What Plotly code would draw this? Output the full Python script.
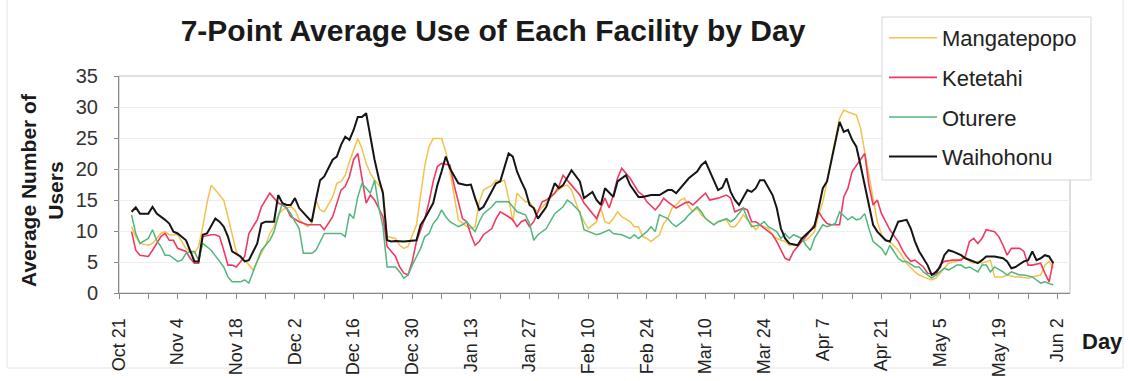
import pandas as pd
import plotly.graph_objects as go

# Series readings: day offsets counted from Oct 21, and the 7-point averaged user counts
START = "2001-10-21"

series_names = ["Mangatepopo", "Ketetahi", "Oturere", "Waihohonu"]
series_colors = ["#f3c24e", "#ef3a62", "#52b77c", "#151515"]

mangatepopo_day = [3, 4, 5, 7, 8, 9, 10, 11, 12, 14, 15, 16, 17, 18, 19, 20, 21, 22, 23, 24, 25, 26, 27, 28,
                   29, 30, 31, 32, 33, 35, 36, 37, 38, 39, 40, 41, 42, 43, 45, 46, 47, 48, 49, 51, 52, 53, 54,
                   55, 57, 58, 59, 60, 61, 63, 64, 66, 67, 68, 69, 71, 72, 73, 74, 75, 77, 78, 79, 80, 81, 83,
                   84, 85, 86, 87, 89, 90, 91, 92, 93, 94, 95, 97, 98, 99, 100, 102, 103, 104, 106, 107, 108,
                   109, 110, 111, 112, 114, 115, 116, 117, 118, 119, 120, 122, 123, 124, 125, 126, 127, 129,
                   130, 131, 132, 133, 134, 135, 136, 137, 138, 139, 141, 142, 143, 145, 146, 147, 148, 149,
                   151, 152, 153, 155, 156, 157, 158, 159, 160, 162, 163, 164, 165, 166, 167, 168, 169, 170,
                   171, 172, 173, 174, 175, 176, 177, 178, 179, 180, 181, 182, 183, 184, 186, 187, 188, 190,
                   191, 192, 193, 194, 195, 196, 197, 198, 200, 202, 203, 204, 205, 206, 208, 209, 211, 212,
                   214, 215, 217, 218, 220, 221, 222, 223]
mangatepopo_val = [10.7, 9.1, 8.0, 7.7, 8.0, 8.8, 9.6, 9.9, 9.4, 9.4, 8.3, 7.2, 6.7, 6.4, 7.5, 10.7, 14.5, 17.4,
                   16.6, 15.8, 15.0, 12.3, 9.6, 6.7, 5.6, 5.3, 4.5, 3.7, 5.1, 7.7, 9.6, 10.7, 12.6, 13.4, 13.7,
                   13.9, 13.4, 11.8, 10.7, 11.2, 15.0, 13.4, 13.1, 15.5, 17.7, 18.0, 19.0, 21.2, 24.9, 23.3,
                   20.9, 19.3, 18.2, 16.6, 9.1, 8.8, 7.7, 7.2, 7.5, 11.0, 15.8, 20.6, 23.6, 24.9, 24.9, 22.8,
                   19.6, 15.8, 11.8, 10.7, 10.4, 10.7, 14.7, 16.6, 17.4, 18.2, 18.0, 18.2, 15.3, 11.5, 16.1,
                   14.7, 14.7, 13.7, 13.1, 14.5, 15.3, 16.1, 17.2, 17.4, 16.6, 14.7, 12.8, 11.5, 10.4, 11.5,
                   13.7, 11.5, 11.2, 12.0, 13.1, 12.3, 11.5, 10.7, 10.7, 9.1, 8.8, 8.3, 9.4, 11.2, 12.0, 13.7,
                   14.2, 15.0, 15.3, 13.9, 13.1, 13.7, 12.6, 11.5, 11.0, 11.5, 11.8, 10.7, 10.7, 11.5, 12.6,
                   11.0, 10.2, 11.0, 10.4, 9.4, 8.8, 8.5, 8.3, 7.7, 7.7, 8.5, 8.5, 9.1, 9.9, 12.6, 14.7, 18.0,
                   21.2, 24.9, 28.2, 29.5, 29.2, 29.0, 28.7, 26.6, 22.8, 18.5, 14.7, 11.5, 9.4, 8.5, 8.3, 6.9,
                   5.9, 4.8, 3.4, 2.9, 2.6, 2.4, 2.1, 2.4, 3.2, 4.0, 4.8, 5.1, 5.9, 5.1, 4.8, 5.1, 4.8, 5.3,
                   2.6, 2.6, 2.9, 2.6, 2.6, 2.4, 2.6, 2.9, 4.5, 5.1, 4.0]

ketetahi_day = [3, 4, 5, 7, 8, 9, 10, 11, 12, 13, 14, 16, 17, 18, 19, 20, 22, 23, 24, 25, 26, 27, 28, 30, 31,
                32, 33, 34, 35, 36, 38, 39, 40, 41, 43, 45, 46, 48, 49, 50, 51, 53, 54, 55, 56, 57, 58, 59,
                60, 61, 63, 64, 66, 67, 68, 69, 70, 71, 73, 74, 75, 76, 77, 79, 80, 81, 82, 83, 84, 85, 86,
                87, 89, 90, 91, 93, 94, 95, 96, 97, 98, 99, 100, 101, 102, 104, 105, 106, 108, 109, 110, 111,
                112, 114, 115, 116, 117, 118, 119, 120, 122, 123, 124, 125, 126, 128, 129, 130, 131, 133,
                135, 136, 137, 139, 140, 141, 143, 145, 146, 147, 149, 150, 151, 152, 153, 155, 156, 157,
                158, 159, 160, 161, 163, 164, 166, 167, 168, 169, 170, 172, 173, 174, 175, 176, 177, 178,
                179, 180, 181, 182, 183, 184, 186, 187, 188, 189, 190, 192, 193, 194, 195, 196, 197, 199,
                201, 202, 203, 204, 205, 206, 207, 209, 210, 211, 212, 213, 215, 216, 217, 218, 220, 221,
                222, 223]
ketetahi_val = [9.9, 6.9, 6.1, 5.9, 6.9, 8.0, 9.1, 9.6, 8.5, 8.5, 7.2, 6.7, 5.6, 4.8, 4.8, 9.1, 9.4, 9.4, 9.1,
                6.9, 4.5, 4.5, 4.2, 5.9, 9.6, 10.7, 11.8, 13.9, 15.0, 16.1, 14.5, 14.2, 13.7, 12.3, 11.5,
                11.0, 11.0, 11.0, 10.2, 11.2, 12.3, 16.6, 17.2, 18.8, 21.5, 22.5, 18.2, 14.5, 15.8, 15.0,
                12.3, 7.5, 5.9, 4.2, 3.2, 2.9, 5.1, 8.3, 12.0, 14.7, 18.0, 20.4, 20.9, 20.6, 17.4, 14.7,
                12.0, 11.5, 9.4, 7.7, 8.3, 9.4, 10.4, 12.0, 13.1, 12.3, 11.8, 10.7, 11.5, 11.8, 10.7, 11.5,
                13.1, 14.7, 15.0, 16.1, 17.2, 19.0, 17.4, 16.6, 15.8, 14.5, 13.7, 12.0, 13.7, 15.3, 13.7,
                15.8, 18.5, 20.1, 18.5, 17.4, 16.3, 15.8, 14.7, 13.4, 14.2, 15.3, 14.7, 13.7, 14.5, 14.7,
                14.2, 15.5, 16.1, 15.0, 15.3, 15.8, 15.3, 13.1, 13.7, 13.4, 11.5, 11.5, 11.0, 9.9, 9.4, 8.3,
                6.9, 5.6, 5.3, 6.7, 8.3, 9.1, 11.0, 13.1, 12.0, 11.2, 11.0, 11.0, 15.5, 16.9, 19.6, 20.6,
                21.7, 22.5, 17.4, 14.2, 15.0, 12.8, 11.5, 10.2, 8.3, 6.9, 5.9, 5.1, 5.3, 4.2, 3.2, 3.0, 2.9,
                4.5, 5.1, 5.3, 5.3, 5.9, 8.3, 8.8, 8.0, 8.8, 10.2, 9.9, 9.1, 7.7, 6.1, 7.2, 7.2, 6.7, 4.5,
                4.5, 4.8, 3.2, 1.8, 5.1]

oturere_day = [3, 4, 5, 7, 8, 9, 10, 11, 12, 14, 15, 16, 17, 18, 19, 20, 22, 23, 24, 25, 26, 27, 29, 30, 31,
               32, 33, 34, 36, 37, 38, 39, 40, 41, 42, 43, 44, 46, 47, 48, 49, 51, 53, 54, 55, 56, 57, 58,
               59, 60, 61, 62, 63, 64, 66, 67, 68, 69, 70, 72, 73, 74, 75, 76, 77, 78, 79, 81, 82, 83, 84,
               85, 86, 87, 89, 90, 91, 93, 94, 95, 97, 98, 99, 100, 102, 103, 104, 106, 107, 108, 110, 111,
               112, 113, 114, 115, 117, 118, 120, 122, 123, 124, 126, 127, 128, 129, 131, 132, 133, 135,
               136, 138, 139, 140, 141, 142, 143, 145, 146, 147, 149, 150, 151, 153, 154, 155, 157, 158,
               159, 160, 161, 162, 163, 164, 165, 166, 168, 169, 170, 171, 172, 174, 175, 176, 177, 178,
               179, 180, 182, 183, 184, 185, 186, 187, 188, 190, 191, 192, 193, 194, 195, 196, 197, 198,
               200, 201, 202, 203, 205, 206, 207, 208, 209, 211, 212, 213, 215, 216, 218, 219, 220, 221,
               222, 223]
oturere_val = [12.6, 9.6, 8.0, 8.8, 10.2, 8.5, 7.5, 6.1, 6.1, 5.1, 5.3, 6.4, 6.7, 6.7, 5.3, 8.0, 6.9, 5.9,
               5.1, 4.2, 2.6, 1.8, 1.8, 2.1, 1.6, 3.4, 5.1, 6.9, 8.5, 9.9, 12.3, 14.5, 13.7, 12.8, 11.5,
               10.4, 6.4, 6.4, 6.9, 8.3, 9.6, 9.6, 9.6, 9.1, 12.8, 12.0, 15.5, 17.7, 16.9, 16.1, 18.2, 13.9,
               10.7, 4.2, 4.2, 3.4, 2.4, 2.9, 4.5, 7.2, 9.1, 9.6, 11.2, 12.0, 13.4, 12.3, 11.5, 10.7, 11.0,
               11.5, 10.7, 9.9, 11.5, 12.8, 13.9, 14.7, 14.7, 14.7, 13.9, 13.1, 12.6, 11.2, 8.5, 9.4, 10.4,
               11.5, 12.8, 13.9, 15.0, 14.5, 13.1, 10.2, 9.9, 9.6, 9.4, 9.6, 10.2, 9.6, 9.4, 8.8, 9.4, 8.8,
               9.9, 10.7, 9.9, 12.6, 12.0, 11.2, 10.7, 11.8, 12.6, 13.9, 13.1, 12.0, 11.5, 11.0, 11.5, 12.0,
               11.5, 12.0, 13.7, 12.0, 10.7, 11.0, 11.5, 10.7, 9.9, 8.8, 9.6, 8.8, 9.4, 9.1, 8.8, 7.7, 6.9,
               8.8, 11.0, 10.7, 11.0, 11.2, 13.1, 11.8, 12.3, 11.8, 12.0, 12.8, 10.4, 8.3, 7.2, 6.1, 7.7,
               6.7, 5.6, 5.1, 5.1, 4.2, 4.2, 3.4, 2.9, 2.4, 2.9, 3.4, 4.0, 3.7, 4.5, 4.5, 4.0, 4.2, 3.4,
               4.5, 4.5, 3.4, 4.2, 3.4, 2.9, 3.4, 2.9, 2.9, 2.6, 2.1, 1.6, 1.8, 1.6, 1.3]

waihohonu_day = [3, 4, 5, 7, 8, 9, 11, 12, 13, 14, 16, 17, 18, 19, 20, 21, 23, 24, 25, 26, 27, 29, 30, 31,
                 33, 34, 35, 37, 38, 39, 40, 41, 42, 43, 45, 46, 47, 48, 49, 51, 52, 53, 54, 55, 56, 57, 58,
                 59, 61, 62, 63, 64, 65, 66, 68, 70, 71, 72, 73, 75, 76, 77, 78, 79, 80, 81, 83, 84, 85, 86,
                 87, 89, 90, 91, 93, 94, 95, 96, 97, 98, 99, 100, 102, 104, 105, 106, 108, 110, 111, 113,
                 114, 115, 116, 118, 119, 121, 122, 124, 125, 127, 129, 131, 132, 133, 135, 136, 138, 139,
                 140, 141, 143, 144, 145, 146, 147, 148, 149, 150, 151, 152, 153, 154, 156, 157, 158, 159,
                 160, 162, 163, 164, 166, 167, 168, 169, 170, 171, 172, 173, 174, 175, 176, 177, 178, 179,
                 180, 181, 183, 184, 185, 186, 188, 189, 190, 191, 193, 194, 195, 196, 197, 198, 199, 201,
                 202, 204, 205, 206, 207, 209, 211, 212, 213, 214, 216, 217, 218, 219, 220, 221, 222, 223]
waihohonu_val = [13.1, 13.8, 12.8, 12.8, 13.9, 12.8, 11.8, 11.2, 9.9, 9.6, 8.5, 6.9, 5.1, 5.1, 9.4, 9.6, 12.0,
                 11.5, 10.7, 9.1, 6.7, 5.9, 5.1, 5.3, 8.0, 11.2, 11.5, 11.5, 15.8, 14.5, 14.2, 14.2, 15.3,
                 13.7, 12.3, 11.5, 15.0, 18.2, 18.8, 21.5, 22.0, 23.9, 25.2, 24.7, 26.3, 28.4, 28.4, 29.0,
                 21.5, 18.5, 16.1, 8.5, 8.3, 8.4, 8.3, 8.4, 8.5, 11.0, 12.0, 14.5, 17.4, 19.6, 22.0, 20.1,
                 19.0, 17.7, 17.4, 17.5, 15.3, 13.4, 13.9, 16.3, 17.7, 18.0, 22.5, 22.0, 19.6, 18.0, 16.6,
                 14.2, 13.7, 12.0, 13.9, 17.7, 16.9, 17.4, 19.8, 18.0, 15.3, 16.3, 15.0, 14.2, 16.9, 15.5,
                 18.0, 19.0, 17.4, 15.5, 15.5, 15.8, 15.8, 16.6, 16.6, 16.1, 17.7, 18.5, 19.6, 20.6, 21.2,
                 19.6, 16.6, 17.0, 18.5, 16.3, 15.0, 14.2, 15.3, 16.6, 16.3, 16.9, 18.2, 18.2, 15.8, 13.7,
                 10.4, 8.8, 8.0, 7.7, 8.8, 9.4, 10.7, 13.7, 16.9, 18.0, 21.2, 24.4, 27.6, 26.0, 26.3, 24.7,
                 23.6, 20.6, 17.4, 13.7, 11.0, 9.9, 8.5, 8.3, 9.9, 11.5, 11.8, 10.4, 8.3, 6.7, 4.5, 2.9,
                 3.4, 4.2, 6.1, 6.9, 6.7, 6.1, 5.6, 5.1, 4.8, 5.3, 5.9, 5.9, 5.6, 5.1, 4.0, 4.2, 5.1, 5.3,
                 6.7, 5.3, 5.6, 6.1, 5.9, 4.8]

days = [mangatepopo_day, ketetahi_day, oturere_day, waihohonu_day]
values = [mangatepopo_val, ketetahi_val, oturere_val, waihohonu_val]
widths = [1.5, 1.6, 1.5, 2.0]

# Axis geometry (pixels) used to place the plot area and the decorations around it
W, H = 1128, 381
PL, PR, PT, PB = 119, 1070, 76, 293


def px_x(p):
    return (p - PL) / (PR - PL)


def px_y(p):
    return (PB - p) / (PB - PT)


start = pd.Timestamp(START)
fig = go.Figure()
for i, name in enumerate(series_names):
    dates = start + pd.to_timedelta(days[i], unit="D")
    fig.add_trace(go.Scatter(
        x=dates, y=values[i], mode="lines", name=name,
        line=dict(color=series_colors[i], width=widths[i]),
        legendgroup=name,
    ))

FONT = "Liberation Sans, Arial, sans-serif"
DAY_MS = 86400000

fig.update_layout(
    template="none",
    width=W, height=H,
    margin=dict(l=PL, r=W - PR, t=PT, b=H - PB, pad=0),
    paper_bgcolor="white", plot_bgcolor="white",
    font=dict(family=FONT, color="#222"),
    title=dict(
        text="7-Point Average Use of Each Facility by Day",
        font=dict(family=FONT, size=30, color="#1a1a1a", weight="bold"),
        xref="container", yref="container",
        x=493 / W, xanchor="center", y=1 - 30 / H, yanchor="middle",
    ),
    xaxis=dict(
        type="date", automargin=False,
        range=[start, start + pd.Timedelta(days=227)],
        tickmode="linear", tick0=START, dtick=14 * DAY_MS,
        tickformat="%b %-d", tickangle=-90,
        tickfont=dict(size=18, color="#222"),
        ticks="outside", ticklen=5, tickcolor="#888",
        ticklabelstandoff=12,
        minor=dict(dtick=7 * DAY_MS, tick0=START, ticks="outside", ticklen=5,
                   tickcolor="#888", showgrid=False),
        showline=True, linecolor="#888", linewidth=1,
        showgrid=False, zeroline=False,
    ),
    yaxis=dict(
        automargin=False,
        range=[0, 35], tickmode="linear", tick0=0, dtick=5,
        tickfont=dict(size=20, color="#333"),
        ticks="outside", ticklen=4, tickcolor="#888",
        ticklabelstandoff=12,
        showline=True, linecolor="#888", linewidth=1,
        showgrid=True, gridcolor="#eeeeee", zeroline=False,
    ),
    showlegend=True,
    legend=dict(
        x=px_x(884), y=px_y(17), xanchor="left", yanchor="top",
        bgcolor="rgba(0,0,0,0)", borderwidth=0,
        font=dict(family=FONT, size=22, color="#222"),
        tracegroupgap=8, itemwidth=48,
    ),
    hovermode=False,
)

# Light frame on the top/right sides of the plot area
fig.add_shape(type="rect", xref="paper", yref="paper", x0=0, x1=1, y0=0, y1=1,
              line=dict(color="#bdbdbd", width=1), layer="below")

# Legend box, opaque so it hides the lines and frame underneath
fig.add_shape(type="rect", xref="paper", yref="paper",
              x0=px_x(882), x1=px_x(1091), y0=px_y(180), y1=px_y(17),
              line=dict(color="#d6d6d6", width=1), fillcolor="white", layer="above")

# Faint outer border of the chart area
for x0, y0, x1, y1 in [(7, 0, 7, 368), (1123, 0, 1123, 368), (7, 368, 1123, 368)]:
    fig.add_shape(type="line", xref="paper", yref="paper",
                  x0=px_x(x0), x1=px_x(x1), y0=px_y(y0), y1=px_y(y1),
                  line=dict(color="#e4e4e4", width=1), layer="below")

# Axis titles
fig.add_annotation(
    text="Average Number of<br>Users", textangle=-90,
    xref="paper", yref="paper", x=px_x(42), y=px_y(190),
    xanchor="center", yanchor="middle", showarrow=False,
    font=dict(family=FONT, size=21, color="#1a1a1a", weight="bold"),
)
fig.add_annotation(
    text="Day", xref="paper", yref="paper", x=px_x(1102), y=px_y(341),
    xanchor="center", yanchor="middle", showarrow=False,
    font=dict(family=FONT, size=22, color="#1a1a1a", weight="bold"),
)

fig.write_html("out.html")
